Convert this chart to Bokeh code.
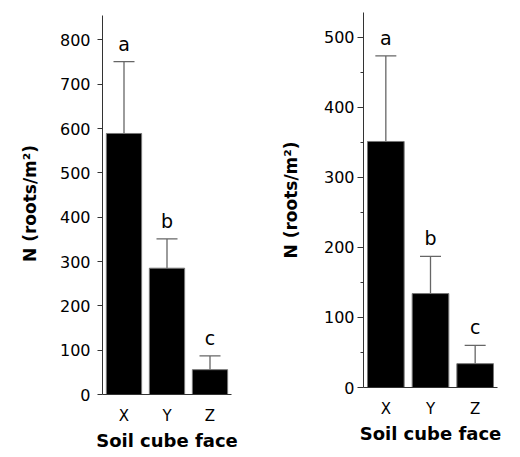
from bokeh.plotting import figure
from bokeh.layouts import row
from bokeh.models import ColumnDataSource, Whisker, TeeHead, Range1d, FactorRange, FixedTicker
from bokeh.core.properties import value
from bokeh.embed import file_html
from bokeh.resources import INLINE

faces = ["X", "Y", "Z"]
letters = ["a", "b", "c"]
x_title = "Soil cube face"
y_title = "N (roots/m²)"

left_mean = [589, 285, 56]
left_se = [162, 66, 31]
left_ticks = [0, 100, 200, 300, 400, 500, 600, 700, 800]

right_mean = [351, 134, 34]
right_se = [122, 53, 26]
right_ticks = [0, 100, 200, 300, 400, 500]
right_minor = [50, 150, 250, 350, 450]

FONT = "DejaVu Sans"


def make_panel(mean, se, ticks, minor, yrange, ybounds, width, height, borders, lab_standoff,
               ax_standoff, xl_standoff, xa_standoff, tick_out):
    src = ColumnDataSource(dict(
        x=faces, top=mean, upper=[m + s for m, s in zip(mean, se)], letter=letters))
    p = figure(x_range=FactorRange(*faces, range_padding=0), y_range=Range1d(*yrange),
               width=width, height=height, output_backend="svg", toolbar_location=None,
               min_border_left=borders[0], min_border_right=borders[1],
               min_border_top=borders[2], min_border_bottom=borders[3])
    p.outline_line_color = None
    p.xgrid.grid_line_color = None
    p.ygrid.grid_line_color = None
    p.background_fill_color = "white"

    p.vbar(x="x", top="top", width=0.82, source=src, fill_color="black",
           line_color="#777777", line_width=1)
    w = Whisker(source=src, base="x", upper="upper", lower="top", lower_head=None,
                upper_head=TeeHead(size=21, line_color="#666666", line_width=1.3),
                line_color="#666666", line_width=1.3)
    p.add_layout(w)
    p.text(x="x", y="upper", text="letter", source=src, text_align="center",
           text_baseline="bottom", y_offset=-7, text_font_size="19px",
           text_font=value(FONT), text_color="black")

    ya = p.yaxis[0]
    ya.ticker = FixedTicker(ticks=ticks, minor_ticks=minor)
    ya.bounds = ybounds
    ya.axis_label = y_title
    ya.axis_label_text_font = FONT
    ya.axis_label_text_font_style = "bold"
    ya.axis_label_text_font_size = "17px"
    ya.axis_label_text_color = "black"
    ya.axis_label_standoff = ax_standoff
    ya.major_label_text_font = FONT
    ya.major_label_text_font_size = "16px"
    ya.major_label_text_color = "black"
    ya.major_label_standoff = lab_standoff
    ya.major_tick_in = 0
    ya.major_tick_out = tick_out
    ya.minor_tick_in = 0
    ya.minor_tick_out = 3 if minor else 0
    ya.axis_line_color = "#333333"
    ya.major_tick_line_color = "#333333"
    ya.minor_tick_line_color = "#333333"

    xa = p.xaxis[0]
    xa.axis_label = x_title
    xa.axis_label_text_font = FONT
    xa.axis_label_text_font_style = "bold"
    xa.axis_label_text_font_size = "18px"
    xa.axis_label_text_color = "black"
    xa.axis_label_standoff = xa_standoff
    xa.major_label_text_font = FONT
    xa.major_label_text_font_size = "15px"
    xa.major_label_text_color = "black"
    xa.major_label_standoff = xl_standoff
    xa.major_tick_line_color = None
    xa.major_tick_out = 0
    xa.major_tick_in = 0
    xa.axis_line_color = "#333333"
    return p


p1 = make_panel(left_mean, left_se, left_ticks, [], (0, 862), (0, 855), 260, 457,
                (102, 29, 12, 63), 7, 17, 12, 2, 5)
p2 = make_panel(right_mean, right_se, right_ticks, right_minor, (0, 535), (0, 535), 260, 450,
                (103, 23, 12, 63), 3, 20, 12, 2, 6)

layout = row(p1, p2)
open("out.html", "w").write(file_html(layout, INLINE))
